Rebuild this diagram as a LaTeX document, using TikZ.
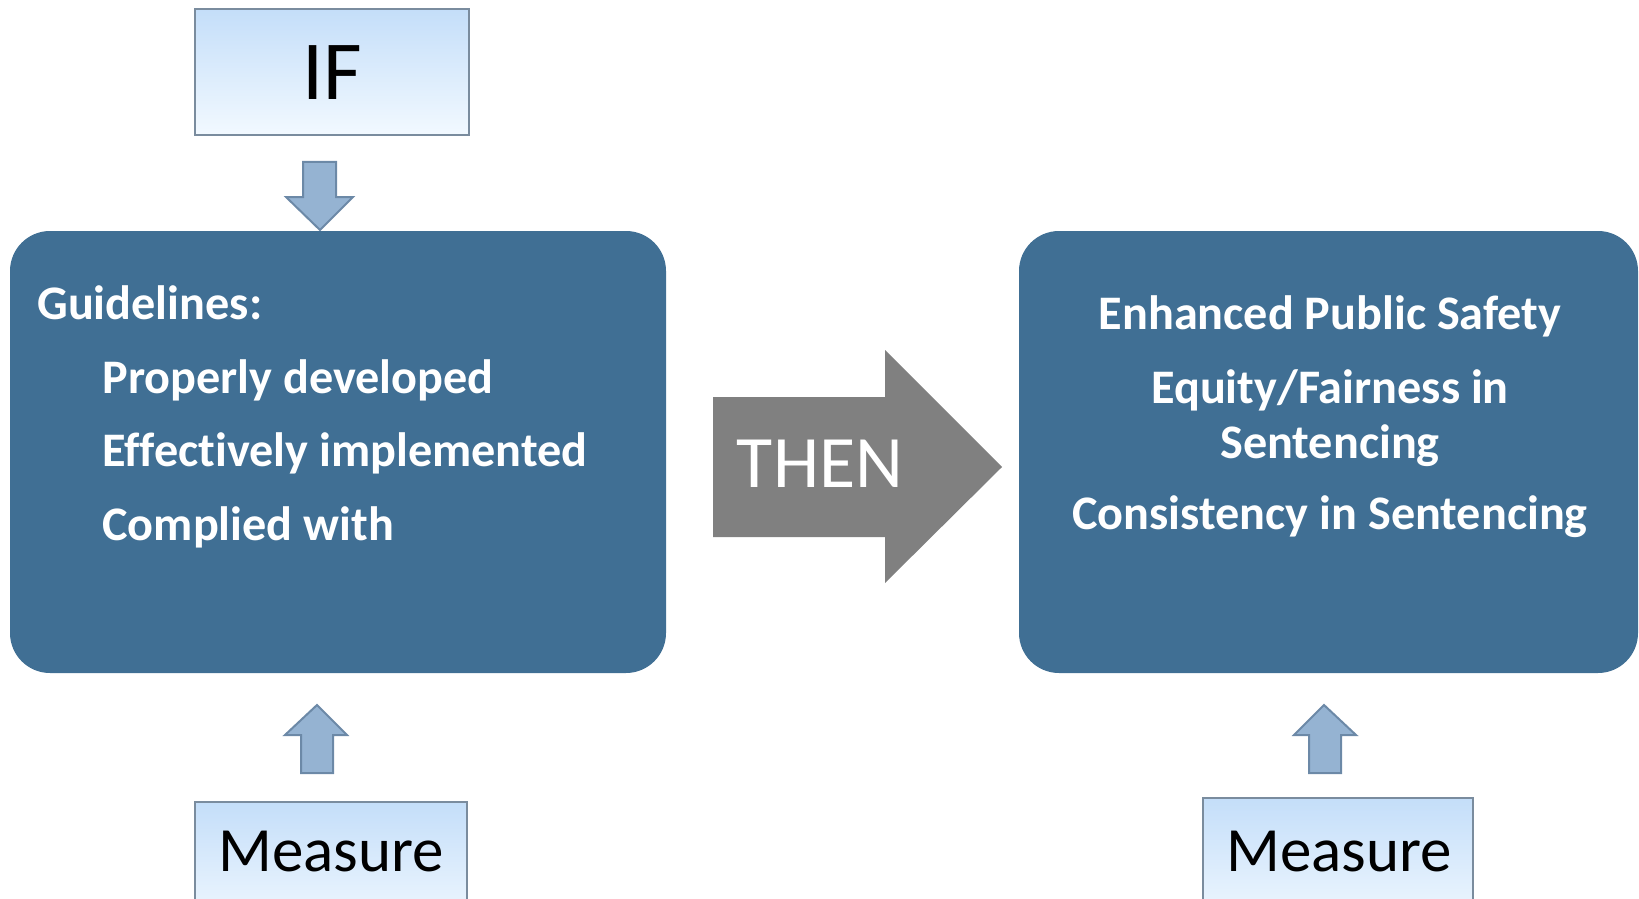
\documentclass[tikz,border=0pt]{standalone}
\usepackage{fontspec}
\setmainfont[Ligatures={NoCommon}]{Carlito}
\definecolor{boxblue}{RGB}{64,111,148}
\definecolor{arrfill}{RGB}{149,179,210}
\definecolor{arrline}{RGB}{108,137,167}
\definecolor{lighttop}{RGB}{196,222,249}
\definecolor{lightbot}{RGB}{242,249,255}
\definecolor{lightline}{RGB}{122,140,158}
\definecolor{thengray}{RGB}{128,128,128}
\tikzset{
  bigbox/.style={fill=boxblue, rounded corners=20pt},
  lightbox/.style={draw=lightline, line width=1.2pt, top color=lighttop, bottom color=lightbot},
  blockarrow/.style={fill=arrfill, draw=arrline, line width=1pt, line join=miter},
  bodytext/.style={text=white, font=\fontsize{24.1}{29}\selectfont\bfseries, inner sep=0pt},
  centertext/.style={bodytext, anchor=base},
  lefttext/.style={bodytext, anchor=base west},
  measuretext/.style={anchor=base, inner sep=0pt, font=\fontsize{31.5}{36}\selectfont},
}
\begin{document}
\begin{tikzpicture}[x=0.5pt, y=-0.5pt]
\useasboundingbox (0,0) rectangle (1639,899);
% IF box
\path[lightbox] (195,9) rectangle (469,135);
\node[anchor=base, inner sep=0pt, font=\fontsize{42}{48}\selectfont] (iftext) at (332,100) {IF};
% down arrow
\path[blockarrow] (303,162) -- (336,162) -- (336,197) -- (353,197) -- (320,230) -- (286,197) -- (303,197) -- cycle;
% left big box
\path[bigbox] (10,231) rectangle (666,673);
\node[lefttext] (g0) at (37,319) {Guidelines:};
\node[lefttext] (g1) at (102,393) {Properly developed};
\node[lefttext] (g2) at (102,466.5) {Effectively implemented};
\node[lefttext] (g3) at (102,540) {Complied with};
% THEN arrow
\path[fill=thengray] (713,397) -- (885,397) -- (885,350) -- (1002,467) -- (885,583) -- (885,537) -- (713,537) -- cycle;
\node[anchor=base, inner sep=0pt, text=white, font=\fontsize{37}{42}\selectfont] (then) at (820,487) {THEN};
% right big box
\path[bigbox] (1019,231) rectangle (1638,673);
\node[centertext] (r1) at (1330,329) {Enhanced Public Safety};
\node[centertext] (r2) at (1330,403) {Equity/Fairness in};
\node[centertext] (r3) at (1330,458) {Sentencing};
\node[centertext] (r4) at (1330,529) {Consistency in Sentencing};
% up arrows
\path[blockarrow] (301,773) -- (333,773) -- (333,735) -- (347,735) -- (317,705) -- (285,735) -- (301,735) -- cycle;
\path[blockarrow] (1309,773) -- (1341,773) -- (1341,735) -- (1356,735) -- (1324,705) -- (1294,735) -- (1309,735) -- cycle;
% Measure boxes
\path[lightbox] (195,802) rectangle (467,930);
\node[measuretext] (m1) at (331,871) {Measure};
\path[lightbox] (1203,798) rectangle (1473,930);
\node[measuretext] (m2) at (1339,871) {Measure};
\end{tikzpicture}
\end{document}
